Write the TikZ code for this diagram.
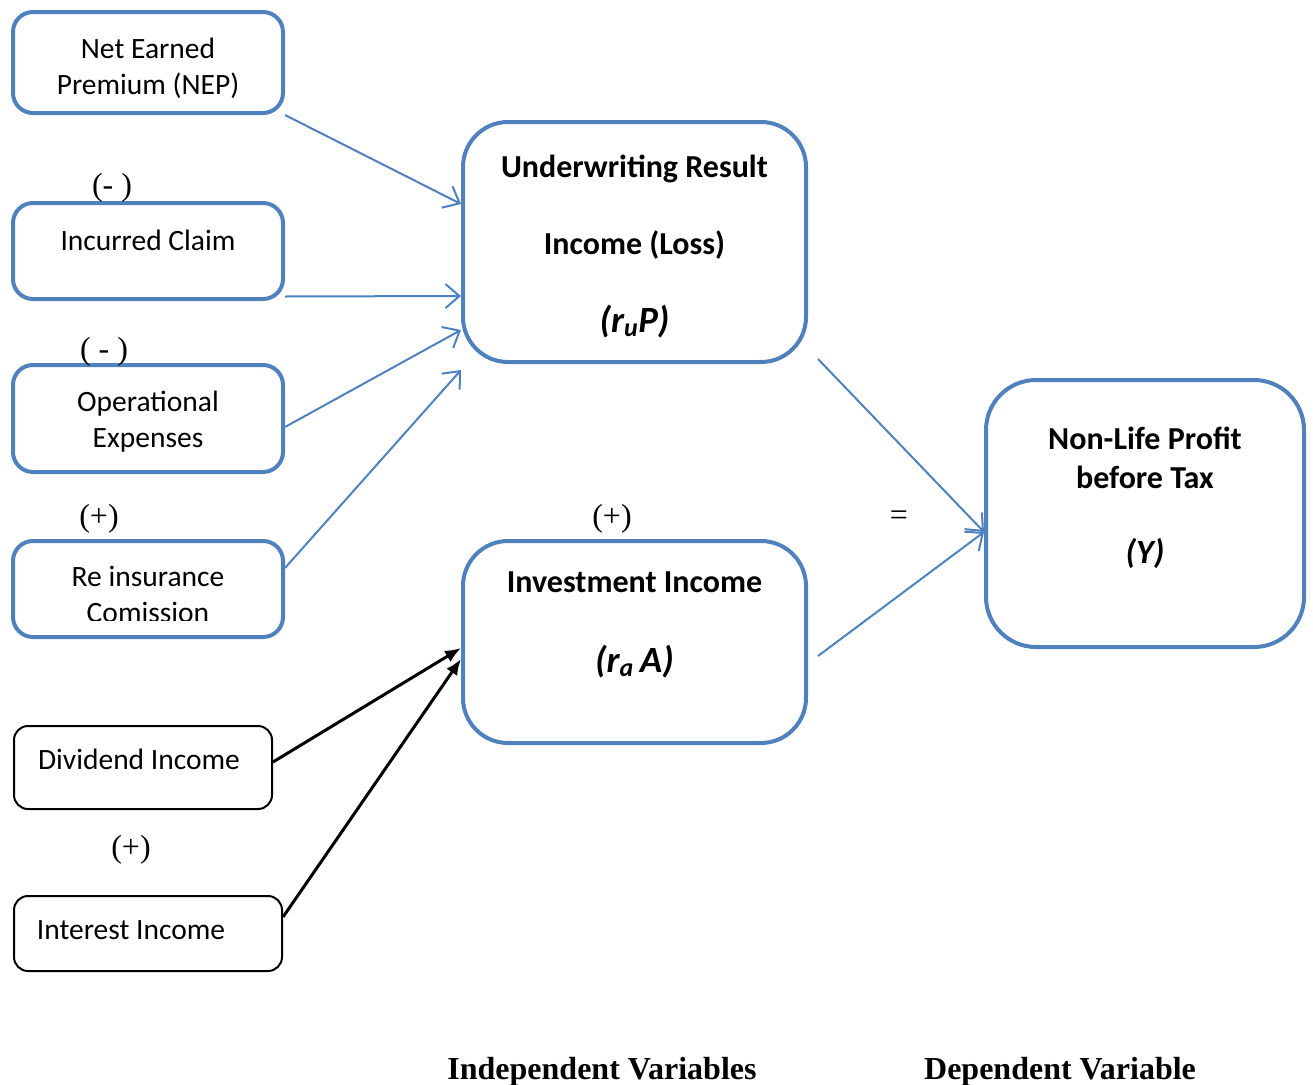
\documentclass[tikz,border=0pt]{standalone}
\usepackage{fontspec}
\setmainfont{Carlito}
\newfontfamily\timesfont{Liberation Serif}
\usetikzlibrary{arrows.meta}
\definecolor{boxblue}{HTML}{4F81BD}
\newcommand{\formula}[1]{{\fontsize{37}{40}\selectfont\textit{#1}}}
\begin{document}
\begin{tikzpicture}[x=1pt, y=-1pt,
    smallbox/.style ={draw=boxblue, line width=4pt, rounded corners=20pt, minimum width=270pt},
    bigbox/.style ={draw=boxblue, line width=4pt, rounded corners=45pt},
    blackbox/.style ={draw=black, line width=2pt, rounded corners=14pt},
    boxtext/.style ={align=center, font=\fontsize{29.5}{36}\selectfont},
    boldtext/.style ={align=center, font=\fontsize{32}{39}\selectfont\bfseries},
    sign/.style ={font=\timesfont\fontsize{32}{36}\selectfont},
    bluearrow/.style ={draw=boxblue, line width=2pt, -{Straight Barb[length=14pt, width=24pt, line width=2pt]}},
    blackarrow/.style ={draw=black, line width=3pt, -{Latex[length=16pt, width=13pt]}}]
   \useasboundingbox (0,0) rectangle (1313,1084);

   % left boxes
   \node[smallbox, minimum height=101pt] (nep)   at (148,62.5)  {};
   \node[smallbox, minimum height=96pt]  (inc)   at (148,251)   {};
   \node[smallbox, minimum height=107pt] (op)    at (148,418.5) {};
   \node[smallbox, minimum height=96pt]  (reins) at (148,589)   {};
   \node[blackbox, minimum width=258pt, minimum height=83pt] (div) at (143,767.5) {};
   \node[blackbox, minimum width=268pt, minimum height=75pt] (int) at (148,933.5) {};

   % middle and right boxes
   \node[bigbox, minimum width=343pt, minimum height=240pt] (uw)  at (634.5,242)   {};
   \node[bigbox, minimum width=343pt, minimum height=202pt] (inv) at (634.5,642)   {};
   \node[bigbox, rounded corners=50pt, minimum width=318pt, minimum height=267pt] (nl) at (1145,513.5) {};

   % texts
   \node[boxtext] (nep-t) at (148,68.5)  {Net Earned\\Premium (NEP)};
   \node[boxtext] (inc-t) at (148,240) {Incurred Claim};
   \node[boxtext] (op-t)  at (148,421.5) {Operational\\Expenses};
   \begin{scope}
     \clip (0,540) rectangle (300,620);
     \node[boxtext] (reins-t) at (148,594.5) {Re insurance\\Comission};
   \end{scope}
   \node[boxtext] (div-t) at (139,759) {Dividend Income};
   \node[boxtext] (int-t) at (131,930) {Interest Income};
   \node[boldtext, font=\fontsize{32}{77.5}\selectfont\bfseries] (uw-t) at (634.5,246.5)
      {Underwriting Result\\Income (Loss)\\\formula{(r\textsubscript{u}P)}};
   \node[boldtext, font=\fontsize{32}{80}\selectfont\bfseries] (inv-t) at (634.5,625)
      {Investment Income\\\formula{(r\textsubscript{a}\,A)}};
   \node[boldtext] (nl-t) at (1145,498) {Non-Life Profit\\before Tax\\[36pt]{\fontsize{34}{38}\selectfont\textit{(Y)}}};

   % signs
   \node[sign] (s1) at (112,188) {(- )};
   \node[sign] (s2) at (104,352) {( - )};
   \node[sign] (s3) at (99,519)  {(+)};
   \node[sign] (s4) at (612,519) {(+)};
   \node[sign] (s5) at (899,518) {=};
   \node[sign] (s6) at (131,850) {(+)};

   % footer
   \node[font=\timesfont\fontsize{32}{36}\selectfont\bfseries, anchor=base] (indep) at (602,1079) {Independent Variables};
   \node[font=\timesfont\fontsize{32}{36}\selectfont\bfseries, anchor=base] (dep)   at (1060,1079) {Dependent Variable};

   % connectors
   \draw[bluearrow] (nep.south east) to ([yshift=38pt]uw.west);
   \draw[bluearrow] ([yshift=4.5pt]inc.south east) to ([yshift=-54pt]uw.west);
   \draw[bluearrow] ([yshift=-8.5pt]op.east) to ([yshift=-88pt]uw.west);
   \draw[bluearrow] ([yshift=21pt]reins.east) to ([yshift=-6pt]uw.south west);
   \draw[bluearrow] ([xshift=10pt, yshift=5pt]uw.south east) to ([yshift=-18.5pt]nl.west);
   \draw[bluearrow] ([xshift=10pt, yshift=-14pt]inv.east) to ([yshift=-18.5pt]nl.west);
   \draw[blackarrow] ([yshift=5.5pt]div.east) to ([yshift=-6pt]inv.west);
   \draw[blackarrow] ([yshift=16.5pt]int.east) to ([yshift=-17pt]inv.west);
 \end{tikzpicture}
\end{document}
